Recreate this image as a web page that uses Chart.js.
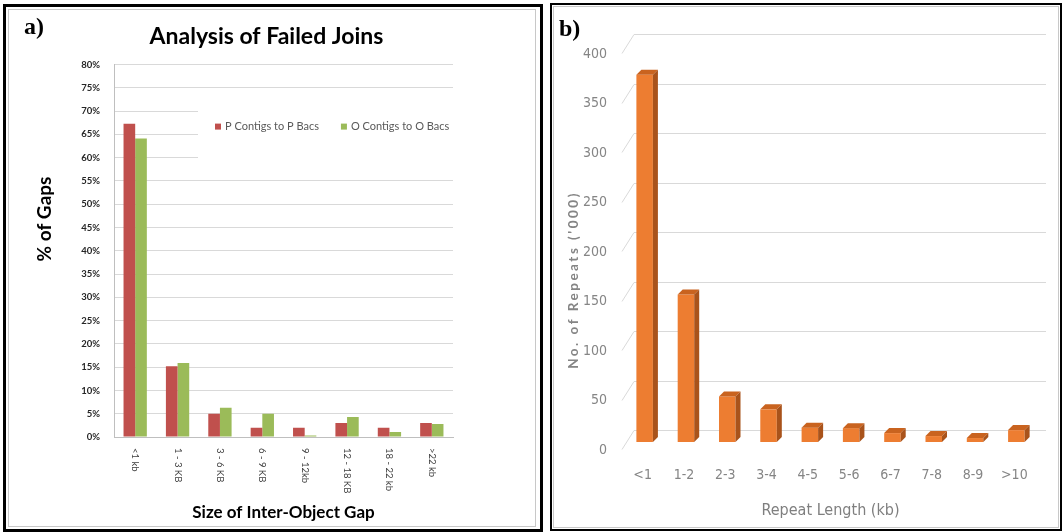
<!DOCTYPE html>
<html>
<head>
<meta charset="utf-8">
<script src="https://cdn.jsdelivr.net/npm/chart.js@4"></script>
<style>
  body { margin: 0; background: #fff; width: 1064px; height: 532px; position: relative; overflow: hidden; }
  .frame { position: absolute; box-sizing: border-box; pointer-events: none; }
  #wrapA { position: absolute; left: 0; top: 0; width: 540px; height: 532px; }
  #wrapB { position: absolute; left: 546px; top: 0; width: 518px; height: 532px; }
  .tag { position: absolute; font-family: 'Liberation Serif', 'DejaVu Serif', serif; font-weight: bold; font-size: 24px; line-height: 1; color: #000; }
</style>
</head>
<body>
<div id="wrapA"><canvas id="gapChart"></canvas></div>
<div id="wrapB"><canvas id="repeatChart"></canvas></div>

<div class="frame" style="left:3px;top:4px;width:540px;height:528px;border:3px solid #000;"></div>
<div class="frame" style="left:8px;top:9px;width:528px;height:518px;border:1px solid #c8c8c8;"></div>
<div class="frame" style="left:550px;top:3px;width:512px;height:528px;border:2px solid #000;"></div>
<div class="frame" style="left:553px;top:6px;width:506px;height:522px;border:1px solid #c8c8c8;"></div>
<div class="tag" style="left:24px;top:14px;">a)</div>
<div class="tag" style="left:559px;top:16px;">b)</div>

<script>
// panel a
const gapLabels = ['<1 kb', '1 - 3 KB', '3 - 6 KB', '6 - 9 KB', '9 - 12kb', '12 - 18 KB', '18 - 22 kb', '>22 kb'];
const pContigs = [67.3, 15.2, 5.0, 2.0, 2.0, 3.0, 2.0, 3.0];
const oContigs = [64.1, 15.9, 6.3, 5.0, 0.3, 4.3, 1.1, 2.8];

// panel b
const repeatLabels = ['<1', '1-2', '2-3', '3-4', '4-5', '5-6', '6-7', '7-8', '8-9', '>10'];
const repeatCounts = [371, 149, 46, 33, 14.5, 14, 9, 6, 4, 12];

const narrow = "'Liberation Sans Narrow', 'DejaVu Sans Condensed', Lato, sans-serif";

// rotated axis title placed off-centre like the original
const sideTitle = {
  id: 'sideTitle',
  afterDraw(chart, args, opts) {
    const ctx = chart.ctx;
    ctx.save();
    ctx.translate(opts.x, opts.y);
    ctx.rotate(-Math.PI / 2);
    ctx.font = opts.font;
    ctx.fillStyle = opts.color;
    if (opts.spacing) ctx.letterSpacing = opts.spacing;
    ctx.textAlign = 'center';
    ctx.textBaseline = 'middle';
    ctx.fillText(opts.text, 0, 0);
    ctx.restore();
  }
};

// x labels in panel a read top to bottom, Chart.js only rotates the other way
const clockwiseTicks = {
  id: 'clockwiseTicks',
  afterDraw(chart) {
    const xs = chart.scales.x, ctx = chart.ctx;
    ctx.save();
    ctx.font = '9.5px Lato';
    ctx.fillStyle = '#404040';
    ctx.textAlign = 'left';
    ctx.textBaseline = 'middle';
    chart.data.labels.forEach((lab, i) => {
      ctx.save();
      ctx.translate(xs.getPixelForTick(i), chart.chartArea.bottom + 11);
      ctx.rotate(Math.PI / 2);
      ctx.fillText(lab, 0, 0);
      ctx.restore();
    });
    ctx.restore();
  }
};

// legend sits inside the plot on a white patch
const insideLegend = {
  id: 'insideLegend',
  beforeDatasetsDraw(chart) {
    const { ctx, chartArea } = chart;
    ctx.save();
    ctx.fillStyle = '#fff';
    ctx.fillRect(chartArea.left + 84, chartArea.top + 36, chartArea.right - chartArea.left, 70);
    ctx.font = '11px Lato';
    ctx.textBaseline = 'middle';
    let x = chartArea.left + 101;
    const y = chartArea.top + 62;
    chart.data.datasets.forEach(ds => {
      ctx.fillStyle = ds.backgroundColor;
      ctx.fillRect(x, y - 3, 6, 6);
      ctx.fillStyle = '#595959';
      ctx.fillText(ds.label, x + 10, y);
      x += 10 + ctx.measureText(ds.label).width + 22;
    });
    ctx.restore();
  }
};

new Chart(document.getElementById('gapChart'), {
  type: 'bar',
  data: {
    labels: gapLabels,
    datasets: [
      { label: 'P Contigs to P Bacs', data: pContigs, backgroundColor: '#c0504d' },
      { label: 'O Contigs to O Bacs', data: oContigs, backgroundColor: '#9bbb59' },
    ],
  },
  options: {
    responsive: true,
    maintainAspectRatio: false,
    animation: false,
    datasets: { bar: { categoryPercentage: 0.55, barPercentage: 1.0 } },
    layout: { padding: { left: 80, right: 87, top: 0, bottom: 0 } },
    plugins: {
      legend: { display: false },
      tooltip: { enabled: false },
      title: {
        display: true,
        text: 'Analysis of Failed Joins',
        color: '#000',
        font: { family: 'Lato', size: 23, weight: 'bold' },
        padding: { top: 23, bottom: 14 },
      },
      sideTitle: { text: '% of Gaps', x: 45, y: 219, font: 'bold 19px Lato', color: '#000' },
    },
    scales: {
      x: {
        grid: { display: false },
        border: { color: '#bfbfbf' },
        ticks: { display: false },
        title: {
          display: true,
          text: 'Size of Inter-Object Gap',
          color: '#000',
          font: { family: 'Lato', size: 17, weight: 'bold' },
          padding: { top: 0, bottom: 9 },
        },
        afterFit: s => { s.height = 95; },
      },
      y: {
        min: 0,
        max: 80,
        grid: { color: '#d9d9d9', drawTicks: false },
        border: { color: '#bfbfbf' },
        ticks: {
          stepSize: 5,
          padding: 14,
          color: '#262626',
          font: { family: 'Lato', size: 9.5, weight: 'bold' },
          callback: v => v + '%',
        },
        afterFit: s => { s.width = 34; },
      },
    },
  },
  plugins: [clockwiseTicks, insideLegend, sideTitle],
});

// back wall grid of the 3D look, lines sit behind the bars
const backWall = {
  id: 'backWall',
  beforeDatasetsDraw(chart) {
    const { ctx, chartArea } = chart;
    const ys = chart.scales.y;
    ctx.save();
    ctx.strokeStyle = '#d9d9d9';
    ctx.lineWidth = 1;
    ys.ticks.forEach(t => {
      const y = Math.round(ys.getPixelForValue(t.value) - 12) + 0.5;
      ctx.beginPath();
      ctx.moveTo(chartArea.left - 2, y + 19);
      ctx.lineTo(chartArea.left + 10, y);
      ctx.lineTo(chartArea.right + 9, y);
      ctx.stroke();
    });
    ctx.restore();
  }
};

// top and side faces for each bar
const barDepth = {
  id: 'barDepth',
  afterDatasetsDraw(chart) {
    const ctx = chart.ctx, d = 5;
    ctx.save();
    chart.getDatasetMeta(0).data.forEach(b => {
      const l = b.x - b.width / 2, r = b.x + b.width / 2, t = b.y, bot = b.base;
      ctx.fillStyle = '#c9631f';
      ctx.beginPath();
      ctx.moveTo(l, t); ctx.lineTo(l + d, t - d); ctx.lineTo(r + d, t - d); ctx.lineTo(r, t);
      ctx.closePath(); ctx.fill();
      ctx.fillStyle = '#a9531b';
      ctx.beginPath();
      ctx.moveTo(r, t); ctx.lineTo(r + d, t - d); ctx.lineTo(r + d, bot - d); ctx.lineTo(r, bot);
      ctx.closePath(); ctx.fill();
    });
    ctx.restore();
  }
};

new Chart(document.getElementById('repeatChart'), {
  type: 'bar',
  data: {
    labels: repeatLabels,
    datasets: [{ label: 'Repeats', data: repeatCounts, backgroundColor: '#ed7d31' }],
  },
  options: {
    responsive: true,
    maintainAspectRatio: false,
    animation: false,
    datasets: { bar: { categoryPercentage: 0.8, barPercentage: 0.5 } },
    layout: { padding: { left: 0, right: 27, top: 46, bottom: 0 } },
    plugins: {
      legend: { display: false },
      tooltip: { enabled: false },
      sideTitle: { text: "No. of Repeats ('000)", x: 28, y: 280, font: 'bold 13.5px Lato', color: '#858585', spacing: '2.5px' },
    },
    scales: {
      x: {
        grid: { display: false, drawTicks: false },
        border: { display: false },
        ticks: {
          padding: 25,
          labelOffset: -2,
          color: '#858585',
          font: { family: narrow, size: 14 },
        },
        title: {
          display: true,
          text: 'Repeat Length (kb)',
          color: '#7f7f7f',
          font: { family: narrow, size: 16 },
          padding: { top: 0, bottom: 12 },
        },
        afterFit: s => { s.height = 90; },
      },
      y: {
        min: 0,
        max: 400,
        grid: { display: false, drawTicks: false },
        border: { display: false },
        ticks: {
          stepSize: 50,
          padding: 17,
          labelOffset: 8,
          color: '#858585',
          font: { family: narrow, size: 14 },
        },
        afterFit: s => { s.width = 78; },
      },
    },
  },
  plugins: [backWall, barDepth, sideTitle],
});
</script>
</body>
</html>
